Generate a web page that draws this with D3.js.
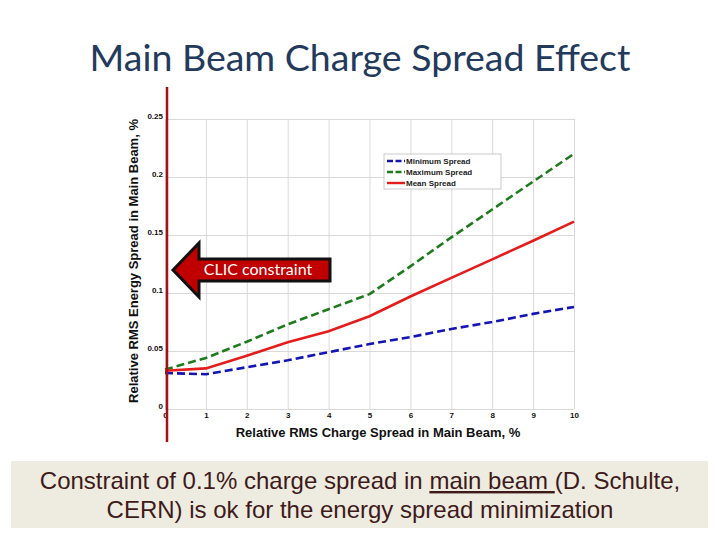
<!DOCTYPE html>
<html><head><meta charset="utf-8">
<script src="https://cdn.jsdelivr.net/npm/d3@7"></script>
<style>html,body{margin:0;padding:0;background:#fff;}svg{display:block;}</style>
</head><body>
<svg id="c" width="720" height="540"></svg>
<script>
// ---- data ----
const chargeSpread = [0,1,2,3,4,5,6,7,8,9,10];
const minSpread  = [0.031,0.030,0.036,0.042,0.049,0.056,0.062,0.069,0.075,0.082,0.088];
const maxSpread  = [0.034,0.044,0.058,0.073,0.086,0.099,0.123,0.148,0.172,0.196,0.220];
const meanSpread = [0.033,0.035,0.046,0.0575,0.067,0.080,0.097,0.113,0.129,0.145,0.1615];
const seriesNames = ["Minimum Spread","Maximum Spread","Mean Spread"];
const xTicks = [0,1,2,3,4,5,6,7,8,9,10];
const yTicks = [0,0.05,0.1,0.15,0.2,0.25];
const yTickLabels = ["0","0.05","0.1","0.15","0.2","0.25"];

const svg = d3.select("#c");
const L = 165, R = 574, T = 119, B = 409;
const x = d3.scaleLinear().domain([0,10]).range([L,R]);
const y = d3.scaleLinear().domain([0,0.25]).range([B,T]);

// title
svg.append("text").attr("x",360).attr("y",71).attr("text-anchor","middle")
  .attr("font-family","Lato, 'Open Sans', sans-serif").attr("font-size",37.5)
  .attr("fill","#233a5c").text("Main Beam Charge Spread Effect");

// grid
const g = svg.append("g");
g.append("g").attr("transform",`translate(0,${B})`)
  .call(d3.axisBottom(x).tickValues(xTicks).tickSize(-(B-T)).tickFormat(""))
  .call(a=>a.select(".domain").remove())
  .call(a=>a.selectAll("line").attr("stroke","#d9d9d9").attr("stroke-width",1));
g.append("g").attr("transform",`translate(${L},0)`)
  .call(d3.axisLeft(y).tickValues(yTicks).tickSize(-(R-L)).tickFormat(""))
  .call(a=>a.select(".domain").remove())
  .call(a=>a.selectAll("line").attr("stroke","#d9d9d9").attr("stroke-width",1));

// tick labels
const xa = svg.append("g").attr("transform",`translate(0,${B})`)
  .call(d3.axisBottom(x).tickValues(xTicks).tickSize(0).tickPadding(3).tickFormat(d3.format("d")));
xa.select(".domain").remove();
xa.selectAll("text").attr("font-family","'Liberation Sans', Arial, sans-serif").attr("font-weight","bold").attr("font-size",8).attr("fill","#111");
const ya = svg.append("g").attr("transform",`translate(${L},0)`)
  .call(d3.axisLeft(y).tickValues(yTicks).tickSize(0).tickPadding(2).tickFormat((d,i)=>yTickLabels[i]));
ya.select(".domain").remove();
ya.selectAll("text").attr("font-family","'Liberation Sans', Arial, sans-serif").attr("font-weight","bold").attr("font-size",8).attr("fill","#111").attr("dy","-0.1em");

// axis titles
svg.append("text").attr("x",378).attr("y",437).attr("text-anchor","middle")
  .attr("font-family","'Liberation Sans', Arial, sans-serif").attr("font-weight","bold").attr("font-size",13)
  .attr("fill","#111").text("Relative RMS Charge Spread in Main Beam, %");
svg.append("text").attr("transform","translate(138,261) rotate(-90)").attr("text-anchor","middle")
  .attr("font-family","'Liberation Sans', Arial, sans-serif").attr("font-weight","bold").attr("font-size",13)
  .attr("fill","#111").text("Relative RMS Energy Spread in Main Beam, %");

// series
const series = [
  {name:seriesNames[0], vals:minSpread, color:"#1414b4", dash:"8,4"},
  {name:seriesNames[1], vals:maxSpread, color:"#1d7a1d", dash:"8,4"},
  {name:seriesNames[2], vals:meanSpread, color:"#e41c1c", dash:null}
];
const line = d3.line().x((d,i)=>x(chargeSpread[i])).y(d=>y(d));
series.forEach(s=>{
  svg.append("path").datum(s.vals).attr("d",line).attr("fill","none")
    .attr("stroke",s.color).attr("stroke-width",2.6).attr("stroke-dasharray",s.dash);
});

// legend
const lg = svg.append("g").attr("transform","translate(384,154)");
lg.append("rect").attr("width",117).attr("height",35).attr("fill","#fff").attr("stroke","#bdbdbd").attr("stroke-width",0.8);
series.forEach((s,i)=>{
  const yy = 7 + i*11;
  lg.append("line").attr("x1",3).attr("x2",21).attr("y1",yy).attr("y2",yy)
    .attr("stroke",s.color).attr("stroke-width",2.4).attr("stroke-dasharray",s.dash?"6,2.5":null);
  lg.append("text").attr("x",22).attr("y",yy+3).attr("font-family","'Liberation Sans', Arial, sans-serif")
    .attr("font-weight","bold").attr("font-size",8).attr("fill","#222").text(s.name);
});

// red vertical constraint line
svg.append("line").attr("x1",167).attr("x2",167).attr("y1",87).attr("y2",442)
  .attr("stroke","#a50f15").attr("stroke-width",2.5);

// arrow annotation
const arrowPts = [[173,270],[199,243],[199,259],[330,259],[330,281],[199,281],[199,297]];
svg.append("path").attr("d","M"+arrowPts.map(p=>p.join(",")).join("L")+"Z")
  .attr("fill","#c00000").attr("stroke","#111").attr("stroke-width",3).attr("stroke-linejoin","miter");
svg.append("text").attr("x",258).attr("y",275).attr("text-anchor","middle")
  .attr("font-family","Lato, 'Open Sans', sans-serif").attr("font-size",16).attr("fill","#fff")
  .text("CLIC constraint");

// bottom text box
svg.append("rect").attr("x",11).attr("y",461).attr("width",697).attr("height",67).attr("fill","#eeece1");
const t1 = svg.append("text").attr("x",360).attr("y",489).attr("text-anchor","middle")
  .attr("font-family","'Liberation Sans', Arial, sans-serif").attr("font-size",24).attr("fill","#3e1a1a");
t1.append("tspan").text("Constraint of 0.1% charge spread in ");
t1.append("tspan").attr("text-decoration","underline").text("main beam ");
t1.append("tspan").text("(D. Schulte,");
svg.append("text").attr("x",360).attr("y",518).attr("text-anchor","middle")
  .attr("font-family","'Liberation Sans', Arial, sans-serif").attr("font-size",24).attr("fill","#3e1a1a")
  .text("CERN) is ok for the energy spread minimization");
</script>
</body></html>
